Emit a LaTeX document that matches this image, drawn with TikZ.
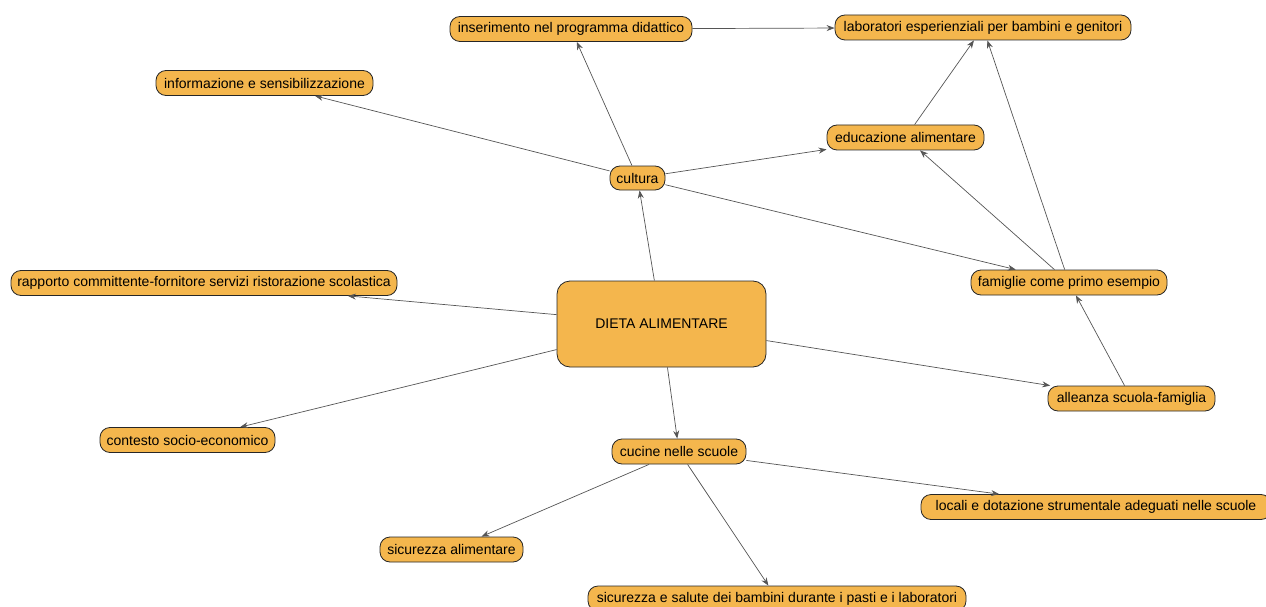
\documentclass[tikz,border=0pt]{standalone}
\usepackage{fontspec}
\setmainfont{Liberation Sans}
\usetikzlibrary{arrows.meta}
\definecolor{nodefill}{HTML}{F4B64D}
\definecolor{linegray}{HTML}{555555}
\tikzset{
  box/.style={draw=black!85, fill=nodefill, rounded corners=10pt, minimum height=25pt,
    inner sep=0pt, font=\fontsize{14}{16}\selectfont, line width=0.8pt},
  bigbox/.style={box, rounded corners=13pt},
  arr/.style={draw=linegray, line width=0.7pt, -{Stealth[length=8pt,width=6pt]}}
}
\begin{document}
\begin{tikzpicture}[x=1pt,y=-1pt]
\useasboundingbox (0,0) rectangle (1266,607);
% nodes
\node[bigbox, minimum width=209pt, minimum height=86pt] (dieta) at (661.5,324) {DIETA ALIMENTARE};
\node[box, minimum width=55pt, minimum height=24pt] (cul) at (637.5,178) {cultura};
\node[box, minimum width=242pt] (ins) at (571,29) {inserimento nel programma didattico};
\node[box, minimum width=296pt] (lab) at (983,27.5) {laboratori esperienziali per bambini e genitori};
\node[box, minimum width=217pt] (inf) at (264.5,83) {informazione e sensibilizzazione};
\node[box, minimum width=157pt] (edu) at (905.5,137.5) {educazione alimentare};
\node[box, minimum width=386pt] (rap) at (204,283) {rapporto committente-fornitore servizi ristorazione scolastica};
\node[box, minimum width=196pt] (fam) at (1069,282.5) {famiglie come primo esempio};
\node[box, minimum width=167pt] (all) at (1131.5,398.5) {alleanza scuola-famiglia};
\node[box, minimum width=175pt] (con) at (187.5,440) {contesto socio-economico};
\node[box, minimum width=134pt] (cuc) at (679,451.5) {cucine nelle scuole};
\node[box, minimum width=350pt] (loc) at (1096,507) {locali e dotazione strumentale adeguati nelle scuole};
\node[box, minimum width=143pt] (sal) at (451.5,549.5) {sicurezza alimentare};
\node[box, minimum width=378pt] (ssb) at (777,598.5) {sicurezza e salute dei bambini durante i pasti e i laboratori};
% connectors
\draw[arr] (dieta) -- (cul);
\draw[arr] (cul) -- (ins);
\draw[arr] (cul) -- (inf);
\draw[arr] (cul) -- (edu);
\draw[arr] (cul) -- (fam);
\draw[arr] (ins) -- (lab);
\draw[arr] (edu) -- (lab);
\draw[arr] (fam) -- (lab);
\draw[arr] (fam) -- (edu);
\draw[arr] (all) -- (fam);
\draw[arr] (dieta) -- (rap);
\draw[arr] (dieta) -- (con);
\draw[arr] (dieta) -- (all);
\draw[arr] (dieta) -- (cuc);
\draw[arr] (cuc) -- (loc);
\draw[arr] (cuc) -- (sal);
\draw[arr] (cuc) -- (ssb);
\end{tikzpicture}
\end{document}
